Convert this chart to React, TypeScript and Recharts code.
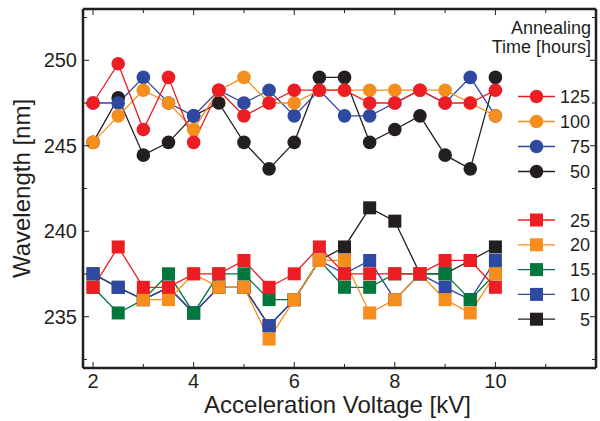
import React from "react";
import { LineChart, Line, XAxis, YAxis, Customized } from "recharts";

// Acceleration voltage [kV]
const voltages = [2, 2.5, 3, 3.5, 4, 4.5, 5, 5.5, 6, 6.5, 7, 7.5, 8, 8.5, 9, 9.5, 10];

// Wavelength [nm] by annealing time [hours] (circles)
const h125 = [247.5, 249.8, 245.95, 249.0, 245.2, 248.25, 246.75, 247.5, 248.25, 248.25, 248.25, 247.5, 247.5, 248.25, 247.5, 247.5, 248.25];
const h100 = [245.2, 246.75, 248.25, 247.5, 245.95, 248.25, 249.0, 247.5, 247.5, 248.25, 248.25, 248.25, 248.25, 248.25, 248.25, 247.5, 246.75];
const h75 = [247.5, 247.5, 249.0, 247.5, 246.75, 248.25, 247.5, 248.25, 246.75, 248.25, 246.75, 246.75, 247.5, 248.25, 247.5, 249.0, 246.75];
const h50 = [245.2, 247.8, 244.45, 245.2, 246.75, 247.5, 245.2, 243.65, 245.2, 249.0, 249.0, 245.2, 245.95, 246.75, 244.45, 243.65, 249.0];

// (squares)
const h25 = [236.72, 239.08, 236.72, 236.72, 237.51, 237.51, 238.29, 236.72, 237.51, 239.08, 237.51, 237.51, 237.51, 237.51, 238.29, 238.29, 236.72];
const h20 = [null, null, 236.0, 236.0, 237.51, 236.72, 236.72, 233.69, 236.0, 238.29, 238.29, 235.22, 236.0, 237.51, 236.0, 235.22, 237.51];
const h15 = [236.72, 235.22, 236.0, 237.51, 235.22, 237.51, 237.51, 236.0, 236.0, 238.29, 236.72, 236.72, 237.51, 237.51, 237.51, 236.0, 237.51];
const h10 = [237.51, 236.72, 236.0, 236.72, 235.22, 236.72, 236.72, 234.47, 236.0, 238.29, 237.51, 238.29, 236.0, 237.51, 236.72, 236.0, 238.29];
const h5 = [237.51, 236.72, 236.0, 236.72, 235.22, 236.72, 236.72, 234.47, 236.0, 238.29, 239.08, 241.37, 240.59, 237.51, 237.51, 238.29, 239.08];

const xTicks = [2, 3, 4, 5, 6, 7, 8, 9, 10, 11];
const xLabels = [2, 4, 6, 8, 10];
const yTicks = [232.5, 235, 237.5, 240, 242.5, 245, 247.5, 250, 252.5];
const yLabels = [235, 240, 245, 250];

const INK = "#231f20";
const FONT = "'Liberation Sans', Arial, Helvetica, sans-serif";

// legend order (top to bottom); drawn in reverse so the first is on top
const circleSeries = [
  { key: "h125", name: "125", color: "#ee1d23", values: h125 },
  { key: "h100", name: "100", color: "#f68e1e", values: h100 },
  { key: "h75", name: "75", color: "#2d4aa0", values: h75 },
  { key: "h50", name: "50", color: "#231f20", values: h50 },
];
const squareSeries = [
  { key: "h25", name: "25", color: "#ee1d23", values: h25 },
  { key: "h20", name: "20", color: "#f68e1e", values: h20 },
  { key: "h15", name: "15", color: "#00773b", values: h15 },
  { key: "h10", name: "10", color: "#2d4aa0", values: h10 },
  { key: "h5", name: "5", color: "#231f20", values: h5 },
];

const rows = voltages.map((x, i) => {
  const r: Record<string, number | null> = { x };
  for (const s of [...circleSeries, ...squareSeries]) r[s.key] = s.values[i];
  return r;
});

const R = 6.8;
const S = 13;

function circleDot(color: string) {
  return (p: any) => {
    const k = `${p.dataKey}-${p.index}`;
    if (p.cx == null || p.cy == null || p.value == null) return <g key={k} />;
    return <circle key={k} cx={p.cx} cy={p.cy} r={R} fill={color} />;
  };
}

function squareDot(color: string) {
  return (p: any) => {
    const k = `${p.dataKey}-${p.index}`;
    if (p.cx == null || p.cy == null || p.value == null) return <g key={k} />;
    return <rect key={k} x={p.cx - S / 2} y={p.cy - S / 2} width={S} height={S} fill={color} />;
  };
}

const BottomTick = (p: any) => {
  const v = p.payload.value;
  const major = xLabels.includes(v);
  return (
    <g>
      <line x1={p.x} x2={p.x} y1={p.y} y2={p.y - (major ? 6 : 4)} stroke={INK} strokeWidth={1} />
      {major && (
        <text x={p.x} y={p.y + 20} textAnchor="middle" fontSize={20} fill={INK} fontFamily={FONT}>
          {v}
        </text>
      )}
    </g>
  );
};

const TopTick = (p: any) => {
  const major = xLabels.includes(p.payload.value);
  return <line x1={p.x} x2={p.x} y1={p.y} y2={p.y + (major ? 6 : 4)} stroke={INK} strokeWidth={1} />;
};

const LeftTick = (p: any) => {
  const v = p.payload.value;
  const major = yLabels.includes(v);
  return (
    <g>
      <line x1={p.x} x2={p.x + (major ? 6 : 4)} y1={p.y} y2={p.y} stroke={INK} strokeWidth={1} />
      {major && (
        <text x={p.x - 6} y={p.y + 7} textAnchor="end" fontSize={20} fill={INK} fontFamily={FONT}>
          {v}
        </text>
      )}
    </g>
  );
};

const RightTick = (p: any) => {
  const major = yLabels.includes(p.payload.value);
  return <line x1={p.x} x2={p.x - (major ? 6 : 4)} y1={p.y} y2={p.y} stroke={INK} strokeWidth={1} />;
};

function Decorations() {
  const entry = (s: { key: string; name: string; color: string }, y: number, square: boolean) => (
    <g key={s.key}>
      <line x1={518} x2={555} y1={y} y2={y} stroke={s.color} strokeWidth={1.3} />
      {square ? (
        <rect x={536.5 - S / 2} y={y - S / 2} width={S} height={S} fill={s.color} />
      ) : (
        <circle cx={536.5} cy={y} r={R} fill={s.color} />
      )}
      <text x={590} y={y + 6.5} textAnchor="end" fontSize={18} fill={INK} fontFamily={FONT}>
        {s.name}
      </text>
    </g>
  );
  return (
    <g>
      <text x={591} y={34} textAnchor="end" fontSize={18} fill={INK} fontFamily={FONT}>
        Annealing
      </text>
      <text x={591} y={53} textAnchor="end" fontSize={18} fill={INK} fontFamily={FONT}>
        Time [hours]
      </text>
      {circleSeries.map((s, i) => entry(s, 96.5 + i * 25, false))}
      {squareSeries.map((s, i) => entry(s, 220 + i * 24.8, true))}
      <text x={337.5} y={413} textAnchor="middle" fontSize={24} fill={INK} fontFamily={FONT}>
        Acceleration Voltage [kV]
      </text>
      <text
        x={30}
        y={188.5}
        textAnchor="middle"
        fontSize={24}
        fill={INK}
        fontFamily={FONT}
        transform="rotate(-90 30 188.5)"
      >
        Wavelength [nm]
      </text>
    </g>
  );
}

export default function App() {
  const axisLine = { stroke: INK, strokeWidth: 2.5 };
  const drawOrder = [...[...circleSeries].reverse(), ...[...squareSeries].reverse()];
  return (
    <div style={{ position: "absolute", left: 0, top: 0, width: 600, height: 421, background: "#fff" }}>
      <LineChart width={600} height={421} data={rows} margin={{ top: 8, right: 3, bottom: 0, left: 0 }}>
        <XAxis
          xAxisId="b"
          type="number"
          dataKey="x"
          domain={[1.8, 12]}
          ticks={xTicks}
          interval={0}
          height={53}
          axisLine={axisLine}
          tickLine={false}
          tickSize={0}
          tickMargin={0}
          tick={<BottomTick />}
          allowDataOverflow
        />
        <XAxis
          xAxisId="t"
          orientation="top"
          type="number"
          dataKey="x"
          domain={[1.8, 12]}
          ticks={xTicks}
          interval={0}
          height={1}
          axisLine={axisLine}
          tickLine={false}
          tickSize={0}
          tickMargin={0}
          tick={<TopTick />}
          allowDataOverflow
        />
        <YAxis
          yAxisId="l"
          type="number"
          domain={[232, 253]}
          ticks={yTicks}
          interval={0}
          width={83}
          axisLine={axisLine}
          tickLine={false}
          tickSize={0}
          tickMargin={0}
          tick={<LeftTick />}
          allowDataOverflow
        />
        <YAxis
          yAxisId="r"
          orientation="right"
          type="number"
          domain={[232, 253]}
          ticks={yTicks}
          interval={0}
          width={1}
          axisLine={axisLine}
          tickLine={false}
          tickSize={0}
          tickMargin={0}
          tick={<RightTick />}
          allowDataOverflow
        />
        {drawOrder.map((s) => (
          <Line
            key={s.key}
            xAxisId="b"
            yAxisId="l"
            type="linear"
            dataKey={s.key}
            stroke={s.color}
            strokeWidth={1.3}
            dot={squareSeries.includes(s as any) ? squareDot(s.color) : circleDot(s.color)}
            activeDot={false}
            isAnimationActive={false}
          />
        ))}
        <Customized component={Decorations} />
      </LineChart>
    </div>
  );
}
